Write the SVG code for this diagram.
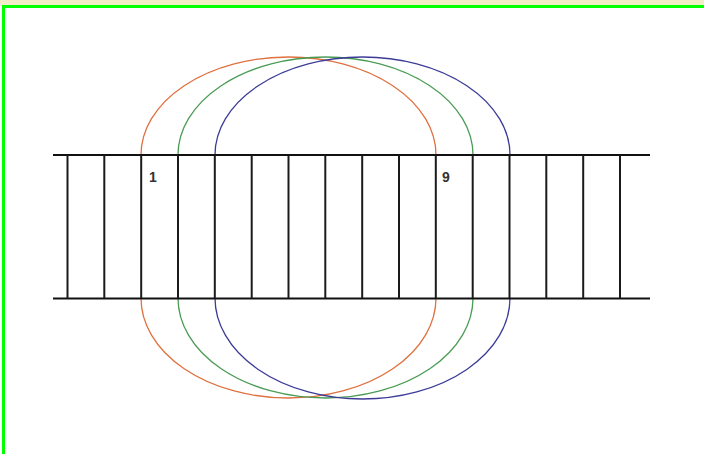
<svg xmlns="http://www.w3.org/2000/svg" width="704" height="454" viewBox="0 0 704 454">
<style>
.rail{stroke:#111;stroke-width:2;fill:none}
.rung{stroke:#1a1a1a;stroke-width:2}
.loop{fill:none;stroke-width:1.3}
.lbl{font-family:"Liberation Sans",Arial,sans-serif;font-size:14px;font-weight:bold;fill:#333}
</style>
<rect x="0" y="0" width="704" height="454" fill="#ffffff"/>
<rect x="0" y="0" width="704" height="5" fill="#f2edc6"/>
<rect x="3.5" y="6.5" width="720" height="470" fill="none" stroke="#00ff00" stroke-width="3"/>
<g id="loops">
<path class="loop" stroke="#e0703f" d="M141 155 A147.5 98 0 0 1 436 155 M436 298 A147.5 100 0 0 1 141 298"/>
<path class="loop" stroke="#4a9c55" d="M178 155 A147.5 98 0 0 1 473 155 M473 298 A147.5 100 0 0 1 178 298"/>
<path class="loop" stroke="#3c3c98" d="M215 155 A147.5 98 0 0 1 510 155 M510 298 A147.5 101 0 0 1 215 298"/>
</g>
<g id="ladder">
<line class="rail" x1="53" y1="155" x2="650" y2="155"/>
<line class="rail" x1="53" y1="298.5" x2="650" y2="298.5"/>
<g class="rung">
<line x1="67.5" y1="155" x2="67.5" y2="298.5"/>
<line x1="104.3" y1="155" x2="104.3" y2="298.5"/>
<line x1="141.2" y1="155" x2="141.2" y2="298.5"/>
<line x1="178" y1="155" x2="178" y2="298.5"/>
<line x1="214.8" y1="155" x2="214.8" y2="298.5"/>
<line x1="251.7" y1="155" x2="251.7" y2="298.5"/>
<line x1="288.5" y1="155" x2="288.5" y2="298.5"/>
<line x1="325.3" y1="155" x2="325.3" y2="298.5"/>
<line x1="362.2" y1="155" x2="362.2" y2="298.5"/>
<line x1="399" y1="155" x2="399" y2="298.5"/>
<line x1="435.8" y1="155" x2="435.8" y2="298.5"/>
<line x1="472.7" y1="155" x2="472.7" y2="298.5"/>
<line x1="509.5" y1="155" x2="509.5" y2="298.5"/>
<line x1="546.3" y1="155" x2="546.3" y2="298.5"/>
<line x1="583.2" y1="155" x2="583.2" y2="298.5"/>
<line x1="620" y1="155" x2="620" y2="298.5"/>
</g>
</g>
<g id="labels">
<text class="lbl" x="149" y="182">1</text>
<text class="lbl" x="442" y="182">9</text>
</g>
</svg>
